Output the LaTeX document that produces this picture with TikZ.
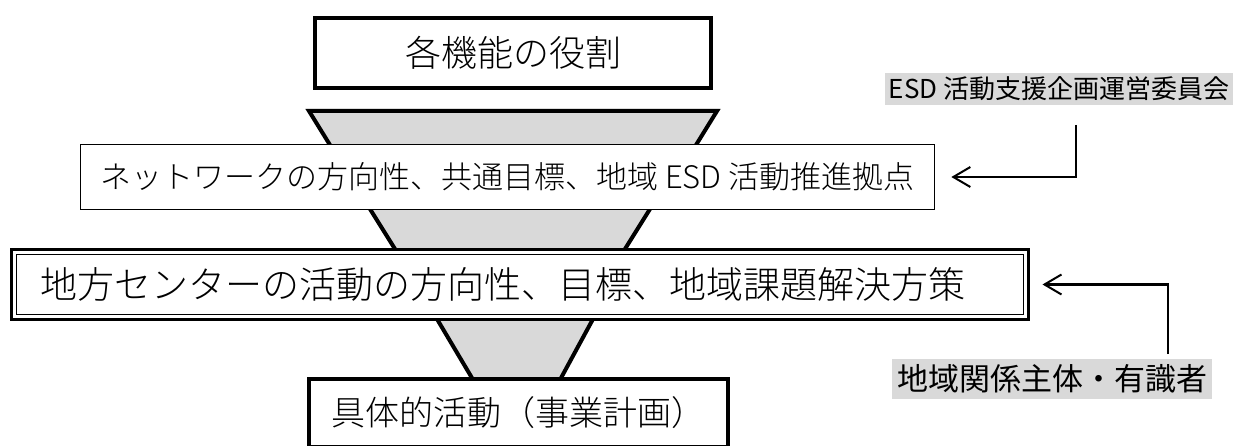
\documentclass[tikz,border=0pt]{standalone}
\usepackage{fontspec}
\newfontfamily\jp{Noto Sans CJK JP}
\IfFontExistsTF{Noto Sans CJK JP Light}
  {\newfontfamily\jpl{Noto Sans CJK JP Light}}
  {\newfontfamily\jpl{Noto Sans CJK JP}}
\usetikzlibrary{arrows.meta}
\definecolor{fillgray}{HTML}{D9D9D9}
\begin{document}
\begin{tikzpicture}[x=1pt,y=-1pt,
  every node/.style={inner sep=0pt, outer sep=0pt, align=center},
  heavybox/.style={draw, line width=4pt},
  lightbox/.style={draw, line width=1.3pt},
  outerbox/.style={draw, line width=3pt},
  tagbox/.style={fill=fillgray},
  funnel/.style={fill=fillgray},
  funnelside/.style={draw, line width=4pt},
  conn/.style={draw, line width=2.3pt, -{Straight Barb[length=17pt,width=20pt,line width=2pt]}},
]
\useasboundingbox (0,0) rectangle (1236,446);

% funnels (drawn first, boxes on top)
\fill[funnel] (307,109) -- (719,109) -- (698,145) -- (328,145) -- cycle;
\draw[funnelside] (330,145) -- (309,111) -- (717,111) -- (696,145);

\fill[funnel] (368,209) -- (652,209) -- (627,249) -- (393,249) -- cycle;
\draw[funnelside] (370,209) -- (395,249);
\draw[funnelside] (650,209) -- (625,249);

\fill[funnel] (435,319) -- (595,319) -- (563,378) -- (470,378) -- cycle;
\draw[funnelside] (437,319) -- (472,378);
\draw[funnelside] (593,319) -- (561,378);

% boxes
\node[heavybox, fill=white, minimum width=396pt, minimum height=70pt,
      font={\jpl\fontsize{36}{40}\selectfont}] (b1) at (513,53) {各機能の役割};

\node[lightbox, fill=white, minimum width=853.7pt, minimum height=64.7pt,
      font={\jpl\fontsize{31}{36}\selectfont}] (b2) at (507.5,177)
      {ネットワークの方向性、共通目標、地域 ESD 活動推進拠点};

\node[outerbox, fill=white, text width=1017pt, align=left, minimum height=70pt,
      font={\jpl\fontsize{37}{42}\selectfont}] (b3) at (520,284.5)
      {\hspace*{28.5pt}地方センターの活動の方向性、目標、地域課題解決方策};
\draw[line width=1.3pt] ([shift={(5.2,5.2)}]b3.north west) rectangle ([shift={(-5.2,-5.2)}]b3.south east);

\node[heavybox, fill=white, minimum width=419pt, minimum height=68pt,
      font={\jpl\fontsize{34}{40}\selectfont}] (b4) at (518.5,413) {具体的活動（事業計画）};

% tags
\node[tagbox, minimum width=348pt, minimum height=32pt,
      font={\jp\fontsize{26}{30}\selectfont}] (t1) at (1059,89) {ESD 活動支援企画運営委員会};
\node[tagbox, minimum width=320pt, minimum height=40pt,
      font={\jp\fontsize{31}{36}\selectfont}] (t2) at (1052,379) {地域関係主体・有識者};

% connectors
\coordinate (k1) at (1076,0);
\coordinate (k2) at (1168,0);
\draw[conn, shorten <=20pt, shorten >=17pt] (t1.south -| k1) |- (b2.east);
\draw[conn, shorten <=5pt, shorten >=14pt] (t2.north -| k2) |- (b3.east);
\end{tikzpicture}
\end{document}
